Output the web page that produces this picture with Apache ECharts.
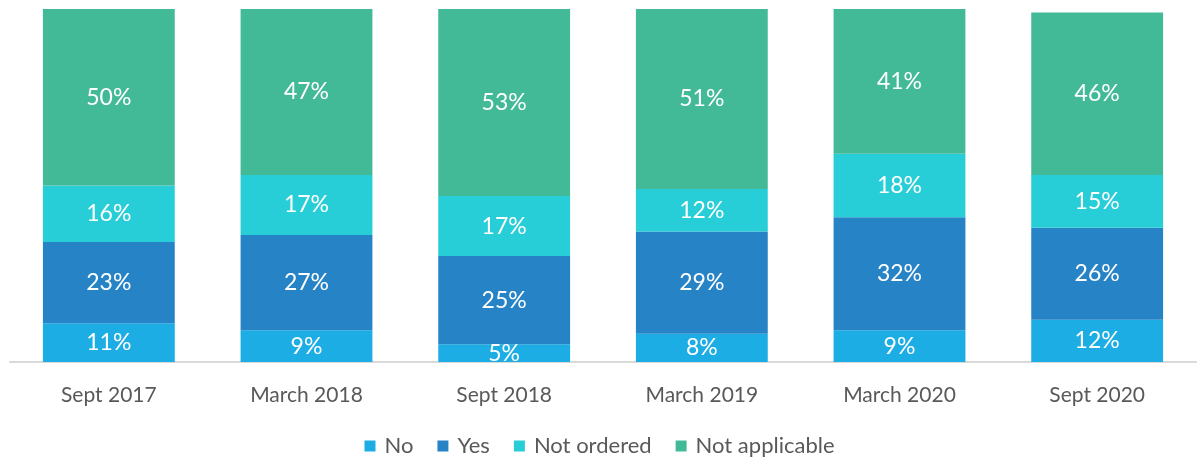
<!DOCTYPE html>
<html><head><meta charset="utf-8">
<script src="https://cdn.jsdelivr.net/npm/echarts@6/dist/echarts.min.js"></script>
<style>html,body{margin:0;padding:0;background:#fff}#c{width:1199px;height:462px}</style>
</head><body><div id="c"></div>
<script>
const categories = ['Sept 2017','March 2018','Sept 2018','March 2019','March 2020','Sept 2020'];
const noVals = [11,9,5,8,9,12];
const yesVals = [23,27,25,29,32,26];
const notOrderedVals = [16,17,17,12,18,15];
const notApplicableVals = [50,47,53,51,41,46];
const seriesNames = ['No','Yes','Not ordered','Not applicable'];
const colors = ['#1CADE4','#2683C6','#27CED7','#42BA97'];
const font = 'Lato, "Open Sans", sans-serif';
const chart = echarts.init(document.getElementById('c'));
const mk = (name, data, color) => ({
  name, type:'bar', stack:'s', data, barWidth:'66.7%',
  itemStyle:{color},
  label:{show:true, position:'inside', formatter:'{c}%', color:'#fff', fontSize:23, fontFamily:font}
});
chart.setOption({
  animation:false,
  grid:{left:10,right:3,top:9,bottom:100,containLabel:false},
  legend:{bottom:0,left:'center',itemWidth:11,itemHeight:11,itemGap:24,icon:'rect',
    textStyle:{fontSize:22,color:'#595959',fontFamily:font,padding:[0,0,0,4]}},
  xAxis:{type:'category',data:categories,axisLine:{lineStyle:{color:'#D9D9D9',width:2}},axisTick:{show:false},
    axisLabel:{fontSize:21,color:'#595959',fontFamily:font,margin:23}},
  yAxis:{type:'value',min:0,max:100,show:false,splitLine:{show:false}},
  series:[mk(seriesNames[0],noVals,colors[0]),mk(seriesNames[1],yesVals,colors[1]),
          mk(seriesNames[2],notOrderedVals,colors[2]),mk(seriesNames[3],notApplicableVals,colors[3])]
});
</script></body></html>
